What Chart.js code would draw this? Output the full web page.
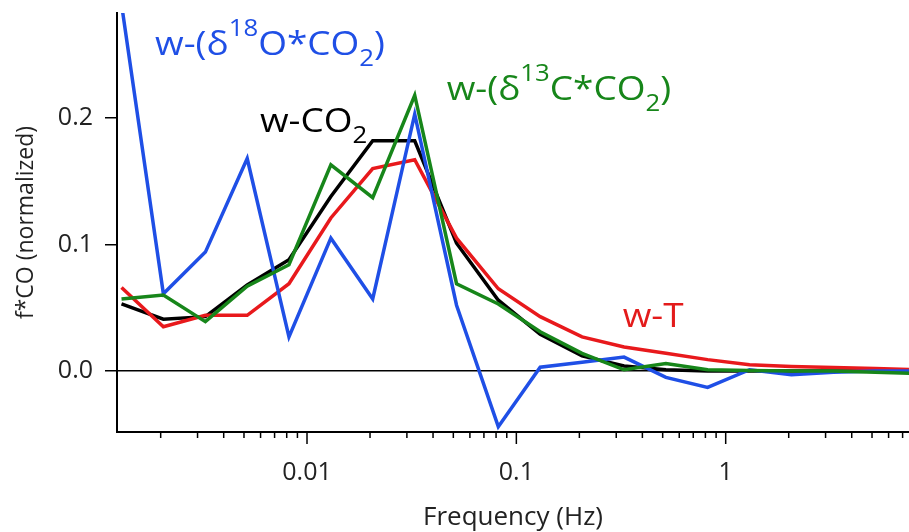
<!DOCTYPE html>
<html><head><meta charset="utf-8">
<script src="https://cdn.jsdelivr.net/npm/chart.js@4/dist/chart.umd.min.js"></script>
<style>html,body{margin:0;padding:0;background:#fff}#wrap{width:909px;height:532px}</style>
</head><body><div id="wrap"><canvas id="c" width="909" height="532"></canvas></div>
<script>
// ---- data ----
const frequencies = [0.0013, 0.00206, 0.00327, 0.00518, 0.0082, 0.0130, 0.0206, 0.0327, 0.0518, 0.0820,
                     0.130, 0.206, 0.327, 0.518, 0.820, 1.30, 2.06, 3.27, 5.18, 8.20];
const wCO2  = [0.053, 0.041, 0.043, 0.068, 0.088, 0.138, 0.182, 0.182, 0.101, 0.056,
               0.029, 0.012, 0.004, 0.001, 0.000, 0.000, 0.000, 0.000, 0.000, 0.000];
const wT    = [0.066, 0.035, 0.044, 0.044, 0.069, 0.121, 0.160, 0.167, 0.105, 0.065,
               0.043, 0.027, 0.019, 0.014, 0.009, 0.005, 0.0035, 0.0027, 0.002, 0.001];
const wD13C = [0.057, 0.060, 0.039, 0.067, 0.084, 0.163, 0.137, 0.218, 0.069, 0.053,
               0.031, 0.014, 0.001, 0.006, 0.001, 0.0005, 0.000, 0.000, -0.001, -0.002];
const wD18O = [0.290, 0.061, 0.094, 0.168, 0.027, 0.105, 0.057, 0.203, 0.052, -0.044,
               0.003, 0.007, 0.011, -0.005, -0.013, 0.001, -0.003, -0.001, 0.000, 0.000];
const xMajorValues = [0.01, 0.1, 1];
const xTickLabels  = ['0.01', '0.1', '1'];
const yTickValues  = [0, 0.1, 0.2];
const yTickLabels  = ['0.0', '0.1', '0.2'];

const FONT = 'Open Sans';
const toPts = arr => frequencies.map((f, i) => ({x: f, y: arr[i]}));

// ---- rich-text series labels (anchored in data coordinates) ----
const seriesLabels = [
  {x: 0.00188, y: 0.2498, color: '#1f4fe6', parts: [['w-(δ','n'],['18','sup'],['O*CO','n'],['2','sub'],[')','n']]},
  {x: 0.00596, y: 0.1892, color: '#000000', parts: [['w-CO','n'],['2','sub']]},
  {x: 0.0465,  y: 0.2142, color: '#17861a', parts: [['w-(δ','n'],['13','sup'],['C*CO','n'],['2','sub'],[')','n']]},
  {x: 0.322,   y: 0.035,  color: '#e31b1b', parts: [['w-T','n']]}
];

const logTicksPlugin = {
  id: 'logTicks',
  afterDraw(chart) {
    const s = chart.scales.x, ctx = chart.ctx;
    ctx.save();
    ctx.strokeStyle = '#000';
    ctx.lineWidth = 1.5;
    s.ticks.forEach(t => {
      const lg = Math.log10(t.value);
      const major = Math.abs(lg - Math.round(lg)) < 1e-6;
      const px = s.getPixelForValue(t.value);
      ctx.beginPath();
      ctx.moveTo(px, s.top);
      ctx.lineTo(px, s.top + (major ? 12 : 6));
      ctx.stroke();
    });
    ctx.restore();
  }
};

const labelsPlugin = {
  id: 'seriesLabels',
  afterDatasetsDraw(chart) {
    const ctx = chart.ctx, xs = chart.scales.x, ys = chart.scales.y;
    const main = 33, small = 23, sx = 1.12;
    seriesLabels.forEach(l => {
      ctx.save();
      ctx.translate(xs.getPixelForValue(l.x), ys.getPixelForValue(l.y));
      ctx.scale(sx, 1);
      ctx.fillStyle = l.color;
      ctx.textBaseline = 'alphabetic';
      ctx.textAlign = 'left';
      let cx = 0;
      l.parts.forEach(([txt, kind]) => {
        const size = kind === 'n' ? main : small;
        const dy = kind === 'sup' ? -19 : (kind === 'sub' ? 11 : 0);
        ctx.font = size + 'px "' + FONT + '"';
        ctx.fillText(txt, cx, dy);
        cx += ctx.measureText(txt).width;
      });
      ctx.restore();
    });
  }
};

const lineDs = (label, arr, color, order) => ({
  label, data: toPts(arr), borderColor: color, backgroundColor: color,
  borderWidth: 3.5, pointRadius: 0, tension: 0, fill: false, order
});

new Chart(document.getElementById('c'), {
  type: 'line',
  data: {
    datasets: [
      lineDs('w-(δ13C*CO2)', wD13C, '#17861a', 0),
      lineDs('w-(δ18O*CO2)', wD18O, '#1f4fe6', 1),
      lineDs('w-T', wT, '#e8191c', 2),
      lineDs('w-CO2', wCO2, '#000000', 3)
    ]
  },
  options: {
    responsive: false,
    animation: false,
    devicePixelRatio: 1,
    layout: {padding: {top: 13, right: 0, bottom: 0, left: 0}},
    plugins: {legend: {display: false}, tooltip: {enabled: false}},
    scales: {
      x: {
        type: 'logarithmic',
        min: 0.001237, max: 7.51,
        afterBuildTicks: s => {
          const t = [];
          for (let e = -3; e <= 0; e++) for (let m = 1; m <= 9; m++) {
            const v = +(m * Math.pow(10, e)).toPrecision(6);
            if (v >= s.min && v <= s.max) t.push({value: v});
          }
          s.ticks = t;
        },
        ticks: {
          autoSkip: false, maxRotation: 0, padding: 26, color: '#222',
          font: {family: FONT, size: 25},
          callback: v => {
            const i = xMajorValues.findIndex(m => Math.abs(m - v) / m < 1e-6);
            return i >= 0 ? xTickLabels[i] : '';
          }
        },
        grid: {display: true, drawOnChartArea: false, drawTicks: false},
        border: {display: true, color: '#000', width: 2},
        title: {display: true, text: 'Frequency (Hz)', color: '#222',
                font: {family: FONT, size: 26}, padding: {top: 0, bottom: -1}},
        afterFit: s => { s.height = 100; s.paddingLeft = 0; s.paddingRight = 0; }
      },
      y: {
        min: -0.0482, max: 0.283,
        afterBuildTicks: s => { s.ticks = yTickValues.map(v => ({value: v})); },
        ticks: {
          padding: 12, color: '#222', font: {family: FONT, size: 25},
          callback: v => {
            const i = yTickValues.findIndex(m => Math.abs(m - v) < 1e-9);
            return i >= 0 ? yTickLabels[i] : '';
          }
        },
        grid: {
          drawOnChartArea: true,
          color: c => (c.tick && Math.abs(c.tick.value) < 1e-9) ? '#000' : 'rgba(0,0,0,0)',
          lineWidth: 1.5, tickLength: 12, tickColor: '#000', tickWidth: 1.5
        },
        border: {display: true, color: '#000', width: 2},
        title: {display: true, text: 'f*CO (normalized)', color: '#222',
                font: {family: FONT, size: 23}, padding: {top: 13, bottom: 0}},
        afterFit: s => { s.width = 117; s.paddingTop = 0; s.paddingBottom = 0; }
      }
    }
  },
  plugins: [logTicksPlugin, labelsPlugin]
});
</script>
</body></html>
